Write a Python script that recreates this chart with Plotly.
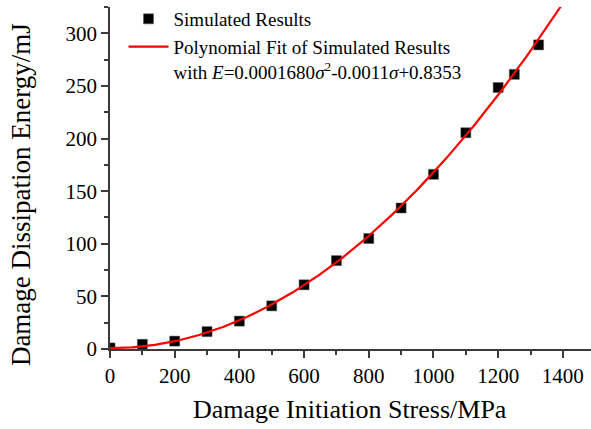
import numpy as np
import plotly.graph_objects as go

# ---- data ----
stress = [0, 100, 200, 300, 400, 500, 600, 700, 800, 900, 1000, 1100, 1200, 1250, 1325]
energy = [1, 4.5, 7.5, 16.5, 26.5, 41, 61, 84, 105, 134, 166, 205.5, 248.5, 261, 289]

# polynomial fit as printed in the legend: E = a*s^2 + b*s + c
fit_a, fit_b, fit_c = 0.0001680, -0.0011, 0.8353
fit_x = np.linspace(0, 1420, 300)
fit_y = fit_a * fit_x**2 + fit_b * fit_x + fit_c

x_ticks = [0, 200, 400, 600, 800, 1000, 1200, 1400]
y_ticks = [0, 50, 100, 150, 200, 250, 300]

FONT = "Liberation Serif"
AX = "#3a3a3a"

fig = go.Figure()
fig.add_trace(go.Scatter(
    x=stress, y=energy, mode="markers", name="Simulated Results",
    marker=dict(symbol="square", size=10, color="black",
                line=dict(width=0.5, color="#555")),
))
fig.add_trace(go.Scatter(
    x=fit_x, y=fit_y, mode="lines",
    name=("Polynomial Fit of Simulated Results<br>"
          "with <i>E</i>=0.0001680<i>σ</i><sup>2</sup>-0.0011<i>σ</i>+0.8353"),
    line=dict(color="#ff0000", width=2.2),
))

axis_common = dict(
    showline=True, linecolor=AX, linewidth=1.5,
    ticks="outside", ticklen=7, tickwidth=1.5, tickcolor=AX,
    showgrid=False, zeroline=False,
    tickfont=dict(family=FONT, size=21, color="black"),
)

fig.update_xaxes(
    range=[0, 1487], tickvals=x_ticks, ticktext=[str(v) for v in x_ticks],
    minor=dict(ticks="outside", ticklen=4, tickwidth=1.5, tickcolor=AX, dtick=100, tick0=0),
    **axis_common,
)
fig.update_yaxes(
    range=[0, 325], tickvals=y_ticks, ticktext=[str(v) for v in y_ticks],
    minor=dict(ticks="outside", ticklen=4, tickwidth=1.5, tickcolor=AX, dtick=25, tick0=0),
    **axis_common,
)

fig.update_layout(
    width=591, height=429,
    margin=dict(l=110, r=0, t=7, b=80, autoexpand=False),
    paper_bgcolor="white", plot_bgcolor="white",
    font=dict(family=FONT, color="black"),
    showlegend=True,
    legend=dict(
        xref="container", yref="container",
        x=0.209, y=1.0, xanchor="left", yanchor="top",
        bgcolor="rgba(0,0,0,0)", borderwidth=0,
        font=dict(family=FONT, size=19, color="black"),
        itemwidth=40, valign="top", tracegroupgap=0,
    ),
    annotations=[
        dict(text="Damage Initiation Stress/MPa", xref="paper", yref="paper",
             x=0.499, y=-0.13, xanchor="center", yanchor="top", showarrow=False,
             font=dict(family=FONT, size=26, color="black")),
        dict(text="Damage Dissipation Energy/mJ", xref="paper", yref="paper",
             x=-0.185, y=0.45, xanchor="center", yanchor="middle", showarrow=False,
             textangle=-90, font=dict(family=FONT, size=27, color="black")),
    ],
)

fig.write_html("out.html")
